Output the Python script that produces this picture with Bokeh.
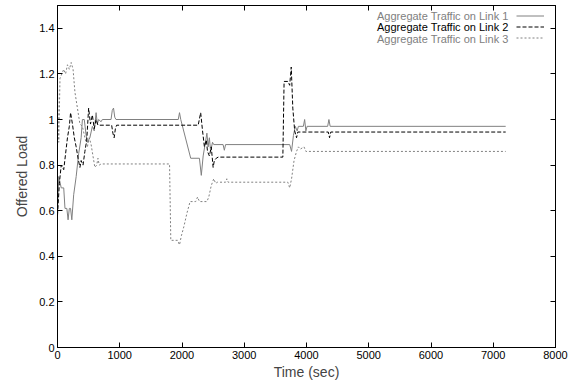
from bokeh.plotting import figure
from bokeh.models import (Range1d, FixedTicker, CustomJSTickFormatter, LinearAxis,
                          Legend, LegendItem, Label, CustomLabelingPolicy)
from bokeh.embed import file_html
from bokeh.resources import INLINE

# ---- data ----
t1 = [0, 20, 60, 100, 120, 150, 170, 190, 210, 230, 260, 300, 340, 380, 400, 430, 460, 480,
      520, 560, 590, 620, 640, 660, 700, 720, 860, 880, 900, 920, 940, 1940, 1960, 1980, 2140,
      2280, 2310, 2340, 2400, 2420, 2440, 2460, 2490, 2510, 2660, 2680, 2700, 3730, 3760, 3790,
      3820, 3850, 3870, 3950, 3970, 3990, 4010, 4340, 4360, 4380, 7200]
v1 = [0.60, 0.75, 0.70, 0.70, 0.61, 0.61, 0.56, 0.61, 0.61, 0.56, 0.67, 0.75, 0.85, 0.92, 1.00,
      1.00, 0.93, 0.90, 0.92, 0.97, 0.95, 1.03, 0.98, 1.00, 0.99, 1.00, 1.00, 1.04, 1.05, 1.01,
      1.00, 1.00, 1.03, 1.00, 0.83, 0.83, 0.755, 0.84, 0.94, 0.88, 0.92, 0.86, 0.90, 0.89, 0.89,
      0.865, 0.89, 0.89, 0.86, 0.93, 0.97, 0.95, 0.97, 0.97, 1.00, 0.95, 0.97, 0.97, 1.00, 0.97,
      0.97]

t2 = [0, 30, 60, 100, 130, 160, 190, 210, 240, 270, 300, 330, 360, 380, 410, 440, 470, 500,
      530, 560, 590, 620, 650, 870, 890, 910, 930, 950, 2260, 2300, 2330, 2360, 2390, 2410,
      2440, 2470, 2500, 2520, 2550, 2580, 3620, 3640, 3700, 3730, 3755, 3780, 3810, 3840, 3860,
      4350, 4370, 4390, 7200]
v2 = [0.58, 0.72, 0.80, 0.78, 0.85, 0.92, 0.97, 1.03, 0.98, 0.92, 0.88, 0.83, 0.79, 0.82, 0.80,
      0.86, 0.91, 1.05, 0.98, 1.02, 0.96, 1.00, 0.975, 0.975, 0.94, 0.92, 0.96, 0.975, 0.975,
      1.03, 0.95, 0.88, 0.91, 0.86, 0.84, 0.88, 0.79, 0.82, 0.83, 0.835, 0.835, 1.167, 1.167,
      1.15, 1.23, 1.05, 0.95, 0.92, 0.945, 0.945, 0.92, 0.945, 0.945]

t3 = [0, 20, 40, 70, 100, 130, 160, 190, 220, 250, 280, 320, 360, 400, 440, 480, 510, 540, 570,
      600, 630, 650, 670, 700, 1800, 1820, 1930, 1960, 1990, 2030, 2080, 2130, 2220, 2250, 2280,
      2400, 2430, 2470, 2510, 2540, 2570, 2700, 2720, 2740, 3700, 3730, 3760, 3800, 3840, 3870,
      3900, 3960, 3990, 7200]
v3 = [1.15, 0.90, 1.18, 1.20, 1.22, 1.20, 1.24, 1.22, 1.25, 1.22, 1.12, 1.05, 0.98, 0.97, 0.92,
      0.88, 0.92, 0.89, 0.84, 0.79, 0.80, 0.83, 0.80, 0.805, 0.805, 0.47, 0.47, 0.45, 0.49, 0.53,
      0.59, 0.64, 0.64, 0.66, 0.64, 0.64, 0.66, 0.71, 0.74, 0.72, 0.725, 0.725, 0.74, 0.725,
      0.725, 0.70, 0.74, 0.82, 0.86, 0.88, 0.87, 0.88, 0.86, 0.86]

series_names = ["Aggregate Traffic on Link 1", "Aggregate Traffic on Link 2",
                "Aggregate Traffic on Link 3"]
x_ticks = [0, 1000, 2000, 3000, 4000, 5000, 6000, 7000, 8000]
y_ticks = [0, 0.2, 0.4, 0.6, 0.8, 1.0, 1.2, 1.4]

FONT = "Liberation Sans"

p = figure(width=587, height=384, output_backend="svg", toolbar_location=None,
           x_range=Range1d(0, 8000), y_range=Range1d(0, 1.5))
p.min_border_left = 57
p.min_border_right = 32
p.min_border_top = 5
p.min_border_bottom = 37
p.grid.visible = False
p.outline_line_color = "black"
p.outline_line_width = 1
p.background_fill_color = "white"
p.border_fill_color = "white"

fmt = CustomJSTickFormatter(code="return String(Math.round(tick*10)/10);")

for ax in (p.xaxis[0], p.yaxis[0]):
    ax.major_tick_in = 5
    ax.major_tick_out = 0
    ax.minor_tick_in = 0
    ax.minor_tick_out = 0
    ax.major_label_text_font = FONT
    ax.major_label_text_font_size = "11px"
    ax.major_label_text_color = "black"
    ax.axis_label_text_font = FONT
    ax.axis_label_text_font_size = "14px"
    ax.axis_label_text_font_style = "normal"
    ax.axis_line_color = "black"
    ax.major_label_standoff = 3

p.xaxis[0].axis_label_standoff = 2
p.yaxis[0].axis_label_standoff = 6
p.xaxis[0].ticker = FixedTicker(ticks=x_ticks)
p.yaxis[0].ticker = FixedTicker(ticks=y_ticks)
p.yaxis[0].formatter = fmt
p.xaxis[0].axis_label = "Time (sec)"
p.yaxis[0].axis_label = "Offered Load"

# mirror ticks on top and right (no labels drawn)
hide = "const all = [...indices]; for (const i of all) indices.unset(i); return indices;"
top = LinearAxis(ticker=FixedTicker(ticks=x_ticks), major_label_text_font_size="1px",
                 major_label_standoff=0, major_tick_in=5, major_tick_out=0,
                 minor_tick_in=0, minor_tick_out=0,
                 major_label_policy=CustomLabelingPolicy(code=hide))
right = LinearAxis(ticker=FixedTicker(ticks=y_ticks), major_label_text_font_size="1px",
                   major_label_standoff=0, major_tick_in=5, major_tick_out=0,
                   minor_tick_in=0, minor_tick_out=0,
                   major_label_policy=CustomLabelingPolicy(code=hide))
p.add_layout(top, "above")
p.add_layout(right, "right")

r1 = p.line(t1, v1, line_color="#808080", line_width=1)
r2 = p.line(t2, v2, line_color="black", line_width=1, line_dash="4 2")
r3 = p.line(t3, v3, line_color="#808080", line_width=1, line_dash="2 2")

legend = Legend(items=[LegendItem(label=" ", renderers=[r1]),
                       LegendItem(label=" ", renderers=[r2]),
                       LegendItem(label=" ", renderers=[r3])],
                location="top_right", margin=0, padding=5, spacing=0,
                label_height=11, glyph_height=11, glyph_width=28,
                label_width=0, label_standoff=6, label_text_font_size="11px",
                border_line_alpha=0, background_fill_alpha=0)
p.add_layout(legend)

label_colors = ["#808080", "black", "#808080"]
for i, (name, col) in enumerate(zip(series_names, label_colors)):
    p.add_layout(Label(x=451, y=332 - i * 11.5, x_units="screen", y_units="screen",
                       text=name, text_align="right", text_baseline="middle",
                       text_font=FONT, text_font_size="11px", text_color=col))

open("out.html", "w").write(file_html(p, INLINE))
